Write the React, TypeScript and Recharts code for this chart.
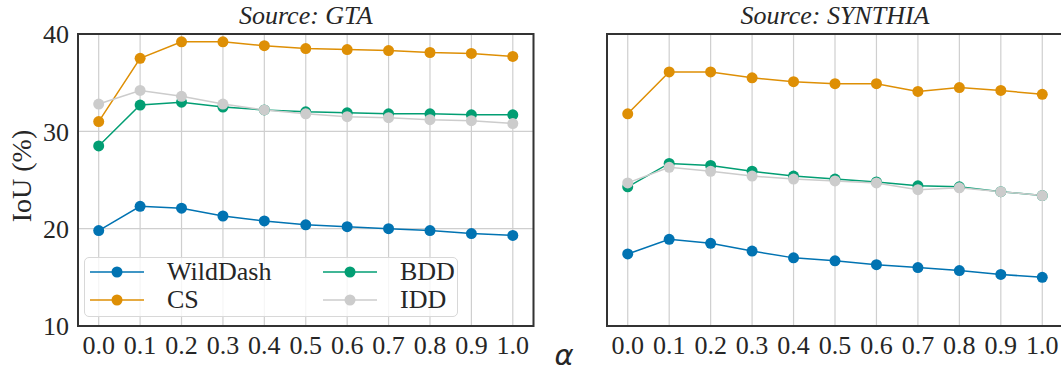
import { LineChart, Line, XAxis, YAxis, CartesianGrid, ReferenceArea } from 'recharts';

// alpha values on the x axis
const alphas = [0, 0.1, 0.2, 0.3, 0.4, 0.5, 0.6, 0.7, 0.8, 0.9, 1.0];
const yTicks = [10, 20, 30, 40];

// Source: GTA
const gtaWildDash = [19.8, 22.3, 22.1, 21.3, 20.8, 20.4, 20.2, 20.0, 19.8, 19.5, 19.3];
const gtaCS = [31.0, 37.5, 39.2, 39.2, 38.8, 38.5, 38.4, 38.3, 38.1, 38.0, 37.7];
const gtaBDD = [28.5, 32.7, 33.0, 32.5, 32.2, 32.0, 31.9, 31.8, 31.8, 31.7, 31.7];
const gtaIDD = [32.8, 34.2, 33.6, 32.8, 32.2, 31.8, 31.5, 31.4, 31.2, 31.1, 30.8];

// Source: SYNTHIA
const synWildDash = [17.4, 18.9, 18.5, 17.7, 17.0, 16.7, 16.3, 16.0, 15.7, 15.3, 15.0];
const synCS = [31.8, 36.1, 36.1, 35.5, 35.1, 34.9, 34.9, 34.1, 34.5, 34.2, 33.8];
const synBDD = [24.3, 26.7, 26.5, 25.9, 25.4, 25.1, 24.8, 24.4, 24.3, 23.8, 23.4];
const synIDD = [24.7, 26.3, 25.9, 25.4, 25.1, 24.9, 24.7, 24.0, 24.2, 23.8, 23.4];

const seriesNames = ['WildDash', 'CS', 'BDD', 'IDD'];
const seriesColors = ['#0173b2', '#de8f05', '#029e73', '#cccccc'];

const FONT = '"Liberation Serif", "Times New Roman", serif';
const TEXT = '#262626';

const buildRows = (cols: number[][]) =>
  alphas.map((a, i) => {
    const row: Record<string, number> = { alpha: a };
    seriesNames.forEach((n, k) => {
      row[n] = cols[k][i];
    });
    return row;
  });

const gtaData = buildRows([gtaWildDash, gtaCS, gtaBDD, gtaIDD]);
const synData = buildRows([synWildDash, synCS, synBDD, synIDD]);

interface PanelProps {
  title: string;
  data: Record<string, number>[];
  left: number;
  width: number;
  yAxisWidth: number;
  marginRight: number;
  showYTicks: boolean;
}

const Panel = ({ title, data, left, width, yAxisWidth, marginRight, showYTicks }: PanelProps) => {
  const plotLeft = yAxisWidth;
  const plotWidth = width - yAxisWidth - marginRight;
  return (
    <div style={{ position: 'absolute', left, top: 0, width, height: 372 }}>
      <div
        style={{
          position: 'absolute',
          left: plotLeft,
          width: plotWidth,
          top: 3,
          textAlign: 'center',
          fontFamily: FONT,
          fontStyle: 'italic',
          fontSize: 26,
          lineHeight: '26px',
          color: TEXT,
          whiteSpace: 'nowrap',
        }}
      >
        {title}
      </div>
      <LineChart width={width} height={372} data={data} margin={{ top: 34, right: marginRight, bottom: 0, left: 0 }}>
        <CartesianGrid stroke="#cfcfcf" strokeWidth={1.2} />
        <XAxis
          dataKey="alpha"
          type="number"
          domain={[-0.05, 1.05]}
          allowDataOverflow
          ticks={alphas}
          tickFormatter={(v: number) => v.toFixed(1)}
          interval={0}
          height={46}
          axisLine={false}
          tickLine={false}
          tickSize={0}
          tickMargin={10}
          tick={{ fontFamily: FONT, fontSize: 26, fill: TEXT }}
        />
        <YAxis
          type="number"
          domain={[10, 40]}
          allowDataOverflow
          ticks={yTicks}
          width={yAxisWidth}
          axisLine={false}
          tickLine={false}
          tickSize={0}
          tickMargin={9}
          tick={showYTicks ? { fontFamily: FONT, fontSize: 26, fill: TEXT } : false}
        />
        {seriesNames.map((n, k) => (
          <Line
            key={n}
            dataKey={n}
            name={n}
            stroke={seriesColors[k]}
            strokeWidth={1.5}
            dot={{ r: 5.5, fill: seriesColors[k], stroke: 'none' }}
            activeDot={false}
            isAnimationActive={false}
          />
        ))}
        <ReferenceArea x1={-0.05} x2={1.05} y1={10} y2={40} fill="none" stroke="#333333" strokeWidth={2} />
      </LineChart>
    </div>
  );
};

const LegendBox = () => (
  <div
    style={{
      position: 'absolute',
      left: 84,
      top: 257,
      width: 374,
      height: 60,
      boxSizing: 'border-box',
      border: '1px solid #d8d8d8',
      borderRadius: 5,
      background: 'rgba(255,255,255,0.8)',
      fontFamily: FONT,
      fontSize: 26,
      color: TEXT,
    }}
  >
    {seriesNames.map((n, k) => {
      const col = Math.floor(k / 2);
      const row = k % 2;
      const x = col === 0 ? 5 : 238;
      const cy = row === 0 ? 14 : 42;
      return (
        <div key={n}>
          <svg style={{ position: 'absolute', left: x, top: cy - 8 }} width={56} height={16}>
            <line x1={0} x2={54} y1={8} y2={8} stroke={seriesColors[k]} strokeWidth={1.5} />
            <circle cx={27} cy={8} r={5.5} fill={seriesColors[k]} />
          </svg>
          <div style={{ position: 'absolute', left: x + 77, top: cy - 15, lineHeight: '30px', whiteSpace: 'nowrap' }}>{n}</div>
        </div>
      );
    })}
  </div>
);

export default function App() {
  return (
    <div style={{ position: 'absolute', left: 0, top: 0, width: 1061, height: 372, overflow: 'hidden', background: '#fff' }}>
      <Panel title="Source: GTA" data={gtaData} left={0} width={545} yAxisWidth={78} marginRight={11.5} showYTicks />
      <Panel title="Source: SYNTHIA" data={synData} left={545} width={535} yAxisWidth={62} marginRight={17} showYTicks={false} />
      <LegendBox />
      <div
        style={{
          position: 'absolute',
          left: 22,
          top: 176,
          transform: 'translate(-50%, -50%) rotate(-90deg)',
          fontFamily: FONT,
          fontSize: 28,
          color: TEXT,
          whiteSpace: 'nowrap',
        }}
      >
        IoU (%)
      </div>
      <div
        style={{
          position: 'absolute',
          left: 564,
          top: 341,
          transform: 'translateX(-50%)',
          fontFamily: '"DejaVu Sans", sans-serif',
          fontStyle: 'italic',
          fontSize: 29,
          lineHeight: 1,
          color: TEXT,
        }}
      >
        α
      </div>
    </div>
  );
}
